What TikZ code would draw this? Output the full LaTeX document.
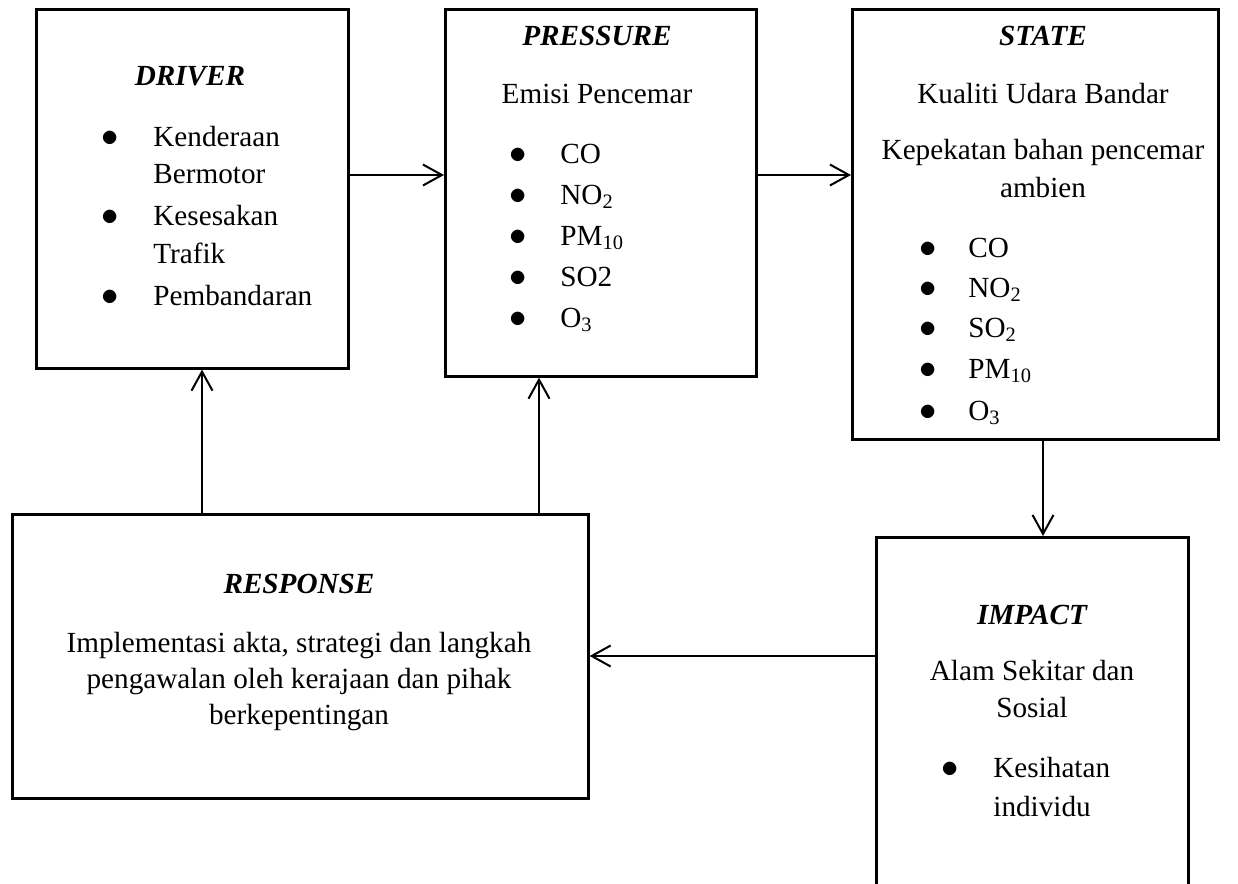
\documentclass[tikz,border=0pt]{standalone}
\usepackage{fontspec}
\setmainfont{Liberation Serif}
\usetikzlibrary{arrows.meta}
\tikzset{
  box/.style={draw, line width=1.3pt, anchor=north west, inner sep=0pt},
  txt/.style={anchor=base, inner sep=0pt, font=\fontsize{14.6}{17}\selectfont},
  ttl/.style={txt, font=\fontsize{14.6}{17}\selectfont\bfseries\itshape},
  itm/.style={txt, anchor=base west},
  dot/.style={txt, font=\fontsize{17}{17}\selectfont},
  arr/.style={-{Straight Barb[length=9.5pt,width=10.5pt]}, line width=1pt},
}
\begin{document}
\begin{tikzpicture}[x=0.5pt, y=-0.5pt]
  \useasboundingbox (0,0) rectangle (1238,884);
  % boxes
  \node[box, minimum width=156pt, minimum height=179.5pt] (drv) at (35,8) {};
  \node[box, minimum width=155.5pt, minimum height=183.5pt] (prs) at (444,8) {};
  \node[box, minimum width=183pt, minimum height=215pt] (sta) at (851,8) {};
  \node[box, minimum width=156pt, minimum height=180pt] (imp) at (875,536) {};
  \node[box, minimum width=288pt, minimum height=142pt] (rsp) at (11,513) {};

  % driver
  \node[ttl] (drvT) at (190,85) {DRIVER};
  \node[dot] (drvB1) at (110,146) {$\bullet$};
  \node[itm] (drv1) at (153,146) {Kenderaan};
  \node[itm] (drv2) at (153,183) {Bermotor};
  \node[dot] (drvB2) at (110,225) {$\bullet$};
  \node[itm] (drv3) at (153,225) {Kesesakan};
  \node[itm] (drv4) at (153,263) {Trafik};
  \node[dot] (drvB3) at (110,305) {$\bullet$};
  \node[itm] (drv5) at (153,305) {Pembandaran};

  % pressure
  \node[ttl] (prsT) at (597,45) {PRESSURE};
  \node[txt] (prsS) at (597,103) {Emisi Pencemar};
  \foreach \t/\y [count=\i] in {CO/163, NO\textsubscript{2}/204, PM\textsubscript{10}/245, SO2/286, O\textsubscript{3}/327}{
    \node[dot] (prsB\i) at (518,\y) {$\bullet$};
    \node[itm] (prs\i) at (560,\y) {\t};
  }

  % state
  \node[ttl] (staT) at (1043,45) {STATE};
  \node[txt] (staS) at (1043,103) {Kualiti Udara Bandar};
  \node[txt] (staK1) at (1043,159) {Kepekatan bahan pencemar};
  \node[txt] (staK2) at (1043,197) {ambien};
  \foreach \t/\y [count=\i] in {CO/257, NO\textsubscript{2}/297, SO\textsubscript{2}/337, PM\textsubscript{10}/378, O\textsubscript{3}/420}{
    \node[dot] (staB\i) at (928,\y) {$\bullet$};
    \node[itm] (sta\i) at (968,\y) {\t};
  }

  % impact
  \node[ttl] (impT) at (1032,624) {IMPACT};
  \node[txt] (impS1) at (1032,680) {Alam Sekitar dan};
  \node[txt] (impS2) at (1032,717) {Sosial};
  \node[dot] (impB1) at (950,777) {$\bullet$};
  \node[itm] (imp1) at (993,777) {Kesihatan};
  \node[itm] (imp2) at (993,816) {individu};

  % response
  \node[ttl] (rspT) at (299,593) {RESPONSE};
  \node[txt] (rsp1) at (299,652) {Implementasi akta, strategi dan langkah};
  \node[txt] (rsp2) at (299,688) {pengawalan oleh kerajaan dan pihak};
  \node[txt] (rsp3) at (299,724) {berkepentingan};

  % arrows
  \coordinate (row1) at (0,175);
  \coordinate (row2) at (0,656);
  \coordinate (colD) at (202,0);
  \coordinate (colP) at (539,0);
  \coordinate (colS) at (1043,0);
  \draw[arr] (drv.east |- row1) -- (prs.west |- row1);
  \draw[arr] (prs.east |- row1) -- (sta.west |- row1);
  \draw[arr] (sta.south -| colS) -- (imp.north -| colS);
  \draw[arr] (imp.west |- row2) -- (rsp.east |- row2);
  \draw[arr] (rsp.north -| colD) -- (drv.south -| colD);
  \draw[arr] (rsp.north -| colP) -- (prs.south -| colP);
\end{tikzpicture}
\end{document}
